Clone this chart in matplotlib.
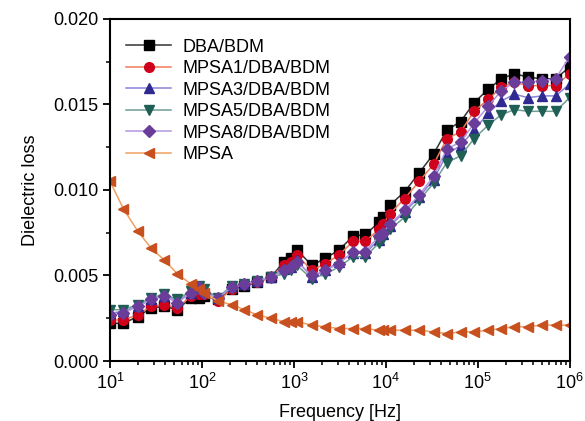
import matplotlib
matplotlib.use("Agg")
import matplotlib.pyplot as plt
from matplotlib.ticker import MultipleLocator, LogLocator, NullFormatter

plt.rcParams['font.family'] = ['Liberation Sans', 'DejaVu Sans']
plt.rcParams['mathtext.default'] = 'regular'

freq = [10, 14, 20, 28, 39, 54, 76, 92, 105, 150, 210, 290, 400, 560,
        780, 920, 1080, 1560, 2200, 3100, 4400, 6000, 8400, 9300, 11000,
        16000, 23000, 33000, 46000, 65000, 91000, 130000, 180000, 250000,
        350000, 500000, 700000, 1000000]

dba_bdm = [0.0022, 0.0022, 0.0026, 0.0031, 0.0032, 0.0030, 0.0037, 0.0037, 0.0038, 0.0036,
           0.0042, 0.0044, 0.0046, 0.0049, 0.0058, 0.0060, 0.0065, 0.0056, 0.0060, 0.0065,
           0.0073, 0.0074, 0.0081, 0.0084, 0.0091, 0.0099, 0.0110, 0.0121, 0.0135, 0.0140,
           0.0151, 0.0159, 0.0165, 0.0168, 0.0166, 0.0165, 0.0165, 0.0172]
mpsa1 = [0.0024, 0.0024, 0.0027, 0.0032, 0.0033, 0.0031, 0.0038, 0.0039, 0.0039, 0.0035,
         0.0042, 0.0045, 0.0046, 0.0049, 0.0056, 0.0058, 0.0062, 0.0053, 0.0057, 0.0062,
         0.0070, 0.0070, 0.0077, 0.0080, 0.0086, 0.0095, 0.0105, 0.0115, 0.0130, 0.0134,
         0.0146, 0.0153, 0.0160, 0.0163, 0.0161, 0.0161, 0.0161, 0.0168]
mpsa3 = [0.0028, 0.0029, 0.0032, 0.0036, 0.0038, 0.0035, 0.0040, 0.0043, 0.0041, 0.0037,
         0.0044, 0.0045, 0.0047, 0.0049, 0.0054, 0.0055, 0.0059, 0.0049, 0.0053, 0.0058,
         0.0063, 0.0063, 0.0071, 0.0074, 0.0079, 0.0087, 0.0096, 0.0106, 0.0121, 0.0126,
         0.0135, 0.0145, 0.0152, 0.0156, 0.0154, 0.0155, 0.0155, 0.0162]
mpsa5 = [0.0030, 0.0030, 0.0033, 0.0037, 0.0039, 0.0036, 0.0041, 0.0044, 0.0042, 0.0037,
         0.0044, 0.0045, 0.0047, 0.0049, 0.0051, 0.0053, 0.0056, 0.0048, 0.0051, 0.0055,
         0.0061, 0.0061, 0.0069, 0.0072, 0.0077, 0.0084, 0.0094, 0.0104, 0.0116, 0.0120,
         0.0130, 0.0138, 0.0144, 0.0147, 0.0146, 0.0146, 0.0146, 0.0154]
mpsa8 = [0.0027, 0.0028, 0.0032, 0.0036, 0.0038, 0.0034, 0.0040, 0.0043, 0.0040, 0.0037,
         0.0043, 0.0045, 0.0047, 0.0049, 0.0053, 0.0055, 0.0058, 0.0050, 0.0053, 0.0057,
         0.0064, 0.0064, 0.0073, 0.0075, 0.0080, 0.0088, 0.0097, 0.0108, 0.0124, 0.0128,
         0.0139, 0.0149, 0.0158, 0.0163, 0.0163, 0.0164, 0.0165, 0.0178]
mpsa = [0.0105, 0.0089, 0.0076, 0.0066, 0.0059, 0.0051, 0.0045, 0.0042, 0.0040, 0.0035,
        0.0033, 0.0030, 0.0027, 0.0025, 0.0023, 0.0023, 0.0023, 0.0021, 0.0020, 0.0019,
        0.0019, 0.0019, 0.0018, 0.0018, 0.0018, 0.0018, 0.0018, 0.0017, 0.0016, 0.0017,
        0.0017, 0.0018, 0.0019, 0.0020, 0.0020, 0.0021, 0.0021, 0.0021]

# label, data, marker, line colour, marker colour
series = [
    ("DBA/BDM", dba_bdm, "s", "#333333", "#000000"),
    ("MPSA1/DBA/BDM", mpsa1, "o", "#f07a5a", "#d0021b"),
    ("MPSA3/DBA/BDM", mpsa3, "^", "#8a84d8", "#2e2a90"),
    ("MPSA5/DBA/BDM", mpsa5, "v", "#6f9e94", "#1f5f55"),
    ("MPSA8/DBA/BDM", mpsa8, "D", "#b296e0", "#6a3d9a"),
    ("MPSA", mpsa, "<", "#f0a060", "#c8501e"),
]

fig = plt.figure(figsize=(5.85, 4.21), dpi=100)
ax = fig.add_axes([0.188, 0.1425, 0.786, 0.8125])

for label, vals, mk, lc, mc in series:
    ms = 6 if mk == "D" else 7
    ax.plot(freq, vals, color=lc, lw=1.1, marker=mk, ms=ms,
            markerfacecolor=mc, markeredgecolor=mc, label=label)

ax.set_xscale("log")
ax.set_xlim(10, 1e6)
ax.set_ylim(0, 0.020)
ax.yaxis.set_major_locator(MultipleLocator(0.005))
ax.yaxis.set_minor_locator(MultipleLocator(0.0025))
ax.yaxis.set_major_formatter(matplotlib.ticker.FormatStrFormatter("%.3f"))
ax.xaxis.set_major_locator(LogLocator(base=10, numticks=10))
ax.xaxis.set_minor_locator(LogLocator(base=10, subs=range(2, 10), numticks=20))
ax.xaxis.set_minor_formatter(NullFormatter())

for sp in ax.spines.values():
    sp.set_linewidth(1.5)
ax.tick_params(which="major", direction="out", length=5, width=1.3, labelsize=13)
ax.tick_params(which="minor", direction="out", length=3, width=1.1)

ax.set_xlabel("Frequency [Hz]", fontsize=13, labelpad=8)
ax.set_ylabel("Dielectric loss", fontsize=13, labelpad=10)

ax.legend(loc="upper left", bbox_to_anchor=(0.0, 0.99), frameon=False,
          fontsize=13, handlelength=2.5, labelspacing=0.25, handletextpad=0.6,
          borderaxespad=0.5)

fig.savefig("out.png", dpi=100)
